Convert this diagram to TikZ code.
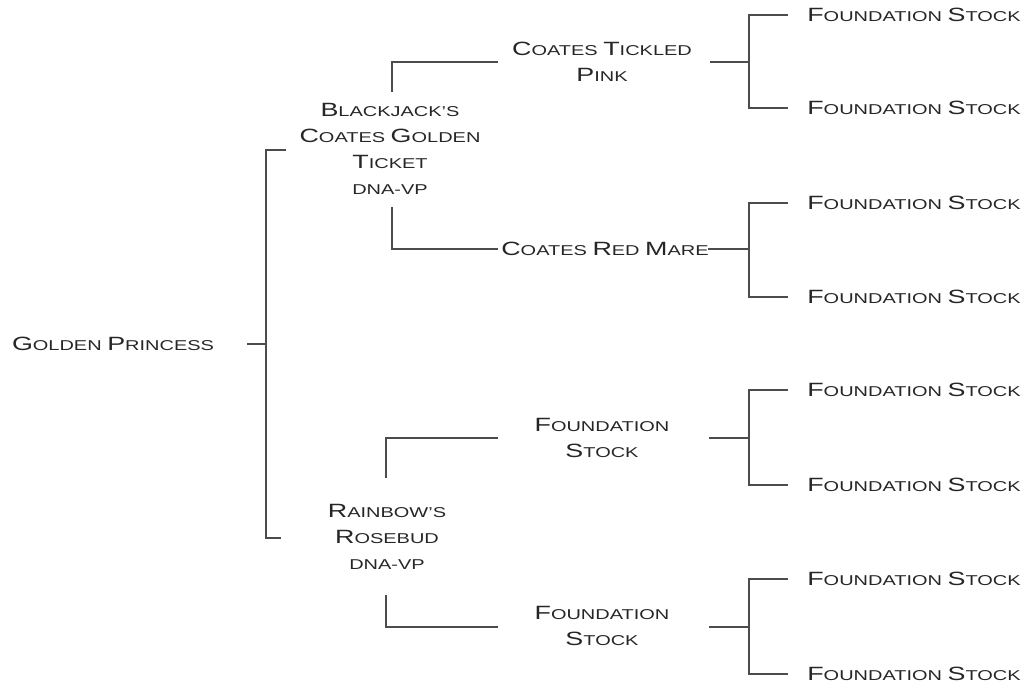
\documentclass[tikz,border=0pt]{standalone}
\usepackage{fontspec}
\setmainfont{Liberation Sans}[FakeStretch=1.4]
\newcommand\C[1]{{\fontsize{14.4pt}{19.5pt}\selectfont #1}}
\begin{document}
\begin{tikzpicture}[x=0.75pt,y=-0.75pt,
  lbl/.style={inner sep=0pt, align=center, text=black!85,
    font=\fontsize{10.7pt}{19.5pt}\selectfont},
  conn/.style={draw=black!70, line width=1.1pt}]
\useasboundingbox (0,0) rectangle (1025,686);
% nodes
\node[lbl] (gp) at (113,344) {\C{G}OLDEN \C{P}RINCESS};
\node[lbl] (bj) at (390,149) {\C{B}LACKJACK'S\\\C{C}OATES \C{G}OLDEN\\\C{T}ICKET\\DNA-VP};
\node[lbl] (rr) at (387,537) {\C{R}AINBOW'S\\\C{R}OSEBUD\\DNA-VP};
\node[lbl] (ctp) at (602,62) {\C{C}OATES \C{T}ICKLED\\\C{P}INK};
\node[lbl] (crm) at (605,249) {\C{C}OATES \C{R}ED \C{M}ARE};
\node[lbl] (fsa) at (602,438) {\C{F}OUNDATION\\\C{S}TOCK};
\node[lbl] (fsb) at (602,626) {\C{F}OUNDATION\\\C{S}TOCK};
\foreach \i/\y in {1/15,2/108,3/203,4/297,5/390,6/485,7/579,8/674}
  \node[lbl] (r\i) at (914,\y) {\C{F}OUNDATION \C{S}TOCK};
% coordinates for connector ends
\coordinate (gpo) at (247,344);
\coordinate (gpj) at (266,344);
\coordinate (bji) at (286,150);
\coordinate (rri) at (281,538);
\coordinate (bjt) at (392,92);
\coordinate (bjb) at (392,207);
\coordinate (ctpi) at (498,62);
\coordinate (crmi) at (498,249);
\coordinate (rrt) at (386,478);
\coordinate (rrb) at (386,595);
\coordinate (fsai) at (498,438);
\coordinate (fsbi) at (498,627);
\foreach \n/\x/\y/\ya/\yb in {ctp/710/62/15/108, crm/708/249/203/297, fsa/709/438/390/485, fsb/709/627/579/674}{
  \coordinate (\n o) at (\x,\y);
  \coordinate (\n j) at (749,\y);
  \coordinate (\n a) at (788,\ya);
  \coordinate (\n b) at (788,\yb);
}
% connectors
\draw[conn] (gpo) -- (gpj);
\draw[conn] (bji) -| (gpj) |- (rri);
\draw[conn] (bjt) |- (ctpi);
\draw[conn] (bjb) |- (crmi);
\draw[conn] (rrt) |- (fsai);
\draw[conn] (rrb) |- (fsbi);
\foreach \n in {ctp,crm,fsa,fsb}{
  \draw[conn] (\n o) -- (\n j);
  \draw[conn] (\n a) -| (\n j) |- (\n b);
}
\end{tikzpicture}
\end{document}
